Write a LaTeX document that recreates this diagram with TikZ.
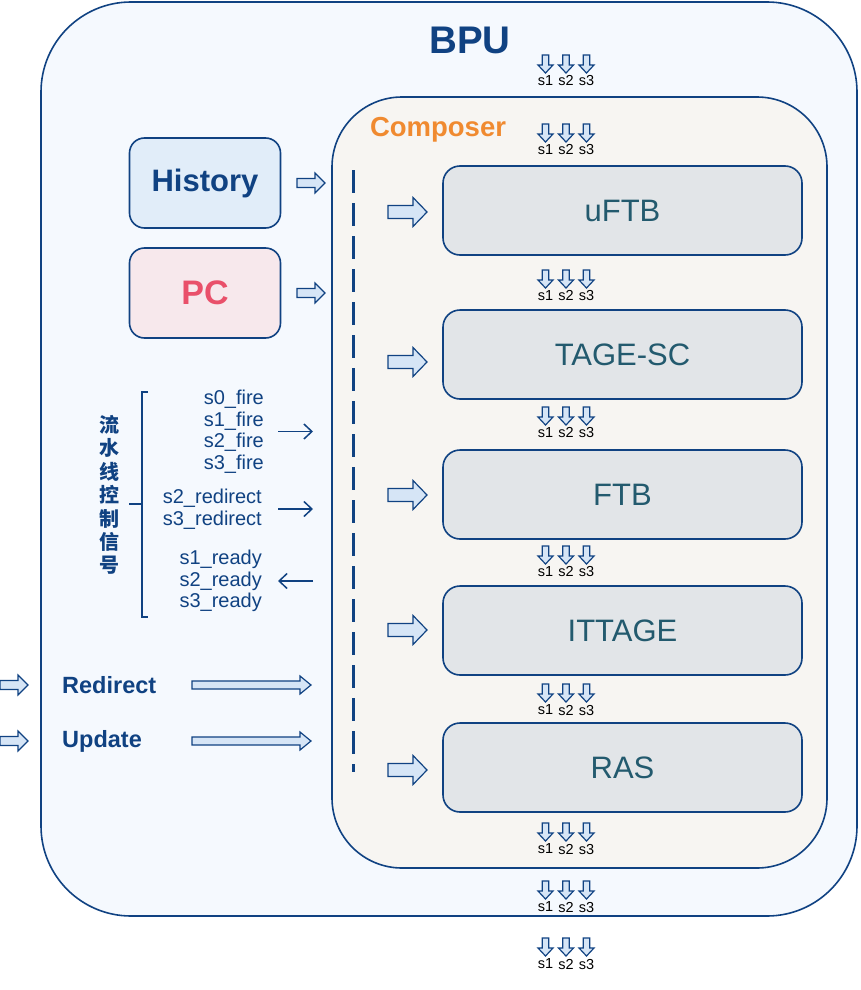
\documentclass[tikz,border=0pt]{standalone}
\usepackage{fontspec}
\setmainfont{Liberation Sans}
\newfontfamily\cjk{Noto Sans CJK SC}
\usetikzlibrary{arrows.meta}

\definecolor{bpublue}{RGB}{16,66,130}
\definecolor{bpufill}{RGB}{245,249,254}
\definecolor{compfill}{RGB}{247,245,242}
\definecolor{histfill}{RGB}{225,237,249}
\definecolor{pcfill}{RGB}{247,232,236}
\definecolor{pctext}{RGB}{233,80,106}
\definecolor{modfill}{RGB}{226,229,232}
\definecolor{modtext}{RGB}{35,90,110}
\definecolor{arrfill}{RGB}{214,229,246}
\definecolor{compor}{RGB}{240,138,48}

\tikzset{
  blockarrow/.style={draw=bpublue, fill=arrfill, line width=1.2pt, line join=miter},
  module/.style={draw=bpublue, fill=modfill, line width=1.6pt, rounded corners=17pt,
    minimum width=359pt, minimum height=89pt, text=modtext, font=\fontsize{31}{31}\selectfont},
  srcbox/.style={draw=bpublue, line width=1.6pt, rounded corners=15pt,
    minimum width=151pt, minimum height=90pt, font=\fontsize{31}{31}\selectfont\bfseries},
  sig/.style={text=bpublue, align=right, inner sep=0pt, font=\fontsize{20}{21.5}\selectfont},
  stagelbl/.style={inner sep=0pt, font=\fontsize{14.5}{14.5}\selectfont},
  sigarrow/.style={draw=bpublue, line width=1.5pt, -{Straight Barb[length=8pt,width=15pt]}},
}

% block arrow pointing right: x, y (centre line), length, shaft half, head half, head length
\newcommand{\harrow}[6]{%
  \draw[blockarrow] (#1,{#2-#4}) -- ({#1+#3-#6},{#2-#4}) -- ({#1+#3-#6},{#2-#5})
    -- ({#1+#3},#2) -- ({#1+#3-#6},{#2+#5}) -- ({#1+#3-#6},{#2+#4}) -- (#1,{#2+#4}) -- cycle;}
% block arrow pointing down: x (centre line), y top, length, shaft half, head half, head length
\newcommand{\varrow}[6]{%
  \draw[blockarrow] ({#1-#4},#2) -- ({#1-#4},{#2+#3-#6}) -- ({#1-#5},{#2+#3-#6})
    -- (#1,{#2+#3}) -- ({#1+#5},{#2+#3-#6}) -- ({#1+#4},{#2+#3-#6}) -- ({#1+#4},#2) -- cycle;}
% s1 s2 s3 stage arrows: name, x of s2, y top
\newcommand{\stages}[3]{%
  \foreach \dx/\s in {-20.5/1,0/2,20.5/3}{
    \pgfmathsetmacro\sx{#2+\dx}
    \varrow{\sx}{#3}{18}{3.2}{7.5}{8}
    \node[stagelbl] (#1s\s) at (\sx,{#3+26}) {s\s};
  }}

\begin{document}
\begin{tikzpicture}[x=1pt, y=-1pt]
\useasboundingbox (0,0) rectangle (860,990);

% BPU and Composer frames
\draw[bpublue, line width=1.6pt, fill=bpufill, rounded corners=90pt] (41,2) rectangle (857,916);
\node[text=bpublue, font=\fontsize{38.5}{38.5}\selectfont\bfseries] (bpu) at (470,40) {BPU};
\draw[bpublue, line width=1.6pt, fill=compfill, rounded corners=70pt] (332,97) rectangle (827,868);
\node[text=compor, font=\fontsize{27.5}{27.5}\selectfont\bfseries] (comp) at (438,130) {Composer};

% inputs
\node[srcbox, fill=histfill, text=bpublue] (hist) at (205,183) {History};
\node[srcbox, fill=pcfill, text=pctext, font=\fontsize{34}{34}\selectfont\bfseries] (pc) at (205,293) {PC};
\harrow{297}{183}{28}{4.5}{10}{10}
\harrow{297}{293}{28}{4.5}{10}{10}

\draw[bpublue, line width=3pt, dash pattern=on 23pt off 10pt] (353,170) -- (353,772);

% predictors
\node[module] (uftb) at (622.5,210.5) {uFTB};
\node[module] (tage) at (622.5,354.5) {TAGE-SC};
\node[module] (ftb) at (622.5,494.5) {FTB};
\node[module] (ittage) at (622.5,630.5) {ITTAGE};
\node[module] (ras) at (622.5,767.5) {RAS};
\harrow{388}{212}{39}{6.5}{14.5}{14}
\harrow{388}{362}{39}{6.5}{14.5}{14}
\harrow{388}{495}{39}{6.5}{14.5}{14}
\harrow{388}{630}{39}{6.5}{14.5}{14}
\harrow{388}{770}{39}{6.5}{14.5}{14}

% stage arrows
\stages{top}{566}{55}
\stages{cmp}{566}{124}
\stages{uf}{566}{270}
\stages{tg}{566}{407}
\stages{fb}{566}{546}
\stages{it}{566}{684}
\stages{ra}{566}{823}
\stages{co}{566}{881}
\stages{out}{566}{938}

% pipeline control signals
\node[text=bpublue, align=center, inner sep=0pt, font=\cjk\bfseries\fontsize{20}{23.4}\selectfont]
  (ctrl) at (109,495) {流\\水\\线\\控\\制\\信\\号};
\draw[bpublue, line width=1.3pt] (148,392) -- (142,392) -- (142,617) -- (148,617);
\draw[bpublue, line width=1.3pt] (142,504) -- (129,504);
\node[sig, anchor=east] (fire) at (264,431.5) {s0\_fire\\s1\_fire\\s2\_fire\\s3\_fire};
\node[sig, anchor=east] (redir) at (262,509) {s2\_redirect\\s3\_redirect};
\node[sig, anchor=east] (ready) at (262,581) {s1\_ready\\s2\_ready\\s3\_ready};
\draw[sigarrow] ([xshift=14pt]fire.east) -- ([xshift=49pt]fire.east);
\draw[sigarrow] ([xshift=16pt]redir.east) -- ([xshift=51pt]redir.east);
\draw[sigarrow] ([xshift=51pt]ready.east) -- ([xshift=16pt]ready.east);

% redirect and update
\node[text=bpublue, anchor=west, inner sep=0pt, font=\fontsize{23.5}{23.5}\selectfont\bfseries] (redirect) at (62,685) {Redirect};
\node[text=bpublue, anchor=west, inner sep=0pt, font=\fontsize{23.5}{23.5}\selectfont\bfseries] (update) at (62,741) {Update};
\harrow{0}{685}{28}{4.5}{10}{10}
\harrow{0}{741}{28}{4.5}{10}{10}
\harrow{192}{685}{119}{4}{9}{11}
\harrow{192}{741}{119}{4}{9}{11}
\end{tikzpicture}
\end{document}
